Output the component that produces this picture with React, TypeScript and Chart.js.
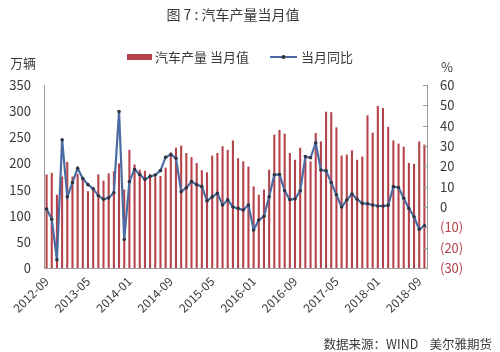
import React, { useEffect, useRef } from 'react';
import { Chart, registerables } from 'chart.js';

Chart.register(...registerables);

// Monthly categories 2012-09 .. 2018-10
const startYear = 2012;
const startMonth = 9;
const monthCount = 74;
const months: string[] = [];
for (let i = 0; i < monthCount; i++) {
  const t = startMonth - 1 + i;
  const y = startYear + Math.floor(t / 12);
  const m = (t % 12) + 1;
  months.push(`${y}-${m < 10 ? '0' + m : m}`);
}

// 汽车产量 当月值 (万辆)
const production = [
  179, 182, 140, 175, 203, 175, 180, 170, 147, 150, 179, 167, 181, 185, 200, 150,
  226, 198, 188, 186, 180, 174, 176, 192, 221, 230, 234, 220, 212, 201, 187, 183,
  215, 220, 233, 226, 244, 210, 204, 194, 156, 140, 150, 188, 255, 264, 257, 220,
  207, 230, 216, 204, 258, 242, 299, 298, 269, 215, 217, 225, 207, 213, 292, 259,
  310, 306, 270, 244, 238, 232, 201, 199, 242, 236,
];

// 当月同比 (%)
const yoy = [
  -1, -6, -26, 33, 5, 12, 19, 14, 11, 9, 5.5, 3.8, 4.5, 7, 47, -16,
  12.5, 18.5, 16, 13.6, 15, 15.7, 17.9, 24.5, 25.8, 24, 7.5, 9.5, 12.5, 11, 10, 3,
  5, 6.7, 1, 3.5, 0, -0.7, -1.5, 1, -11.3, -6.4, -4.6, 5, 15.8, 16, 8, 3.6,
  4, 8, 24.8, 24.2, 31.5, 18.2, 17.8, 12, 6, 0, 3.4, 6.4, 3.8, 1.8, 1.6, 1,
  0.5, 0.5, 0.8, 10, 9.6, 4.3, -0.7, -4.8, -11, -9.3,
];

const leftMin = 0;
const leftMax = 350;
const leftStep = 50;
const rightMin = -30;
const rightMax = 60;
const rightStep = 10;
const labelEvery = 8;

const TITLE = '图 7 : 汽车产量当月值';
const LEFT_UNIT = '万辆';
const RIGHT_UNIT = '%';
const BAR_NAME = '汽车产量 当月值';
const LINE_NAME = '当月同比';
const SOURCE = '数据来源：WIND    美尔雅期货';

const BAR_COLOR = '#B5424A';
const LINE_COLOR = '#4A6CA3';
const MARKER_COLOR = '#2F3540';
const NEG_COLOR = '#B5424A';
const TEXT_COLOR = '#3a3a3a';
const AXIS_COLOR = '#9a9a9a';
const FONT = '"Noto Sans CJK SC", "Noto Sans", sans-serif';

const textPlugin = {
  id: 'extraTexts',
  afterDraw(chart: any) {
    const ctx = chart.ctx as CanvasRenderingContext2D;
    ctx.save();
    ctx.fillStyle = TEXT_COLOR;
    ctx.textBaseline = 'middle';
    // title
    ctx.font = `14px ${FONT}`;
    ctx.textAlign = 'center';
    ctx.fillText(TITLE, 233, 15);
    // units
    ctx.font = `13px ${FONT}`;
    ctx.textAlign = 'left';
    ctx.fillText(LEFT_UNIT, 10, 63);
    ctx.fillText(RIGHT_UNIT, 441, 67);
    // legend
    ctx.fillStyle = BAR_COLOR;
    ctx.fillRect(127, 54, 25, 6);
    ctx.fillStyle = TEXT_COLOR;
    ctx.fillText(BAR_NAME, 155, 57);
    ctx.strokeStyle = LINE_COLOR;
    ctx.lineWidth = 2;
    ctx.beginPath();
    ctx.moveTo(270, 57);
    ctx.lineTo(297, 57);
    ctx.stroke();
    ctx.fillStyle = MARKER_COLOR;
    ctx.beginPath();
    ctx.arc(283.5, 57, 2, 0, Math.PI * 2);
    ctx.fill();
    ctx.fillStyle = TEXT_COLOR;
    ctx.fillText(LINE_NAME, 301, 57);
    // source
    ctx.font = `12.5px ${FONT}`;
    ctx.textAlign = 'right';
    ctx.fillText(SOURCE, 492, 344);
    // inward tick marks on right axis
    const y1 = chart.scales.y1;
    const area = chart.chartArea;
    ctx.strokeStyle = AXIS_COLOR;
    ctx.lineWidth = 1;
    for (let v = rightMin; v <= rightMax; v += rightStep) {
      const py = Math.round(y1.getPixelForValue(v)) + 0.5;
      ctx.beginPath();
      ctx.moveTo(area.right - 4, py);
      ctx.lineTo(area.right, py);
      ctx.stroke();
    }
    ctx.restore();
  },
};

export default function App() {
  const ref = useRef<HTMLCanvasElement | null>(null);
  useEffect(() => {
    if (!ref.current) return;
    const chart = new Chart(ref.current, {
      type: 'bar',
      data: {
        labels: months,
        datasets: [
          {
            type: 'line',
            label: LINE_NAME,
            data: yoy,
            yAxisID: 'y1',
            borderColor: LINE_COLOR,
            borderWidth: 2.2,
            pointRadius: 1.8,
            pointBackgroundColor: MARKER_COLOR,
            pointBorderColor: MARKER_COLOR,
            pointBorderWidth: 0,
            tension: 0,
            order: 0,
          } as any,
          {
            type: 'bar',
            label: BAR_NAME,
            data: production,
            yAxisID: 'y',
            backgroundColor: BAR_COLOR,
            barPercentage: 0.4,
            categoryPercentage: 1,
            order: 1,
          },
        ],
      },
      options: {
        responsive: false,
        animation: false,
        events: [],
        layout: { padding: { top: 85, left: 0, right: 0, bottom: 0 } },
        plugins: {
          legend: { display: false },
          title: { display: false },
          tooltip: { enabled: false },
        },
        scales: {
          x: {
            grid: { display: false, drawTicks: false },
            border: { display: true, color: AXIS_COLOR },
            ticks: {
              autoSkip: false,
              maxRotation: 45,
              minRotation: 45,
              padding: 6,
              color: TEXT_COLOR,
              font: { family: FONT, size: 12 },
              callback: (_v: any, i: number) => (i % labelEvery === 0 ? months[i] : null),
            },
            afterFit: (s: any) => {
              s.height = 84;
            },
          },
          y: {
            position: 'left',
            min: leftMin,
            max: leftMax,
            grid: { display: false, drawTicks: false },
            border: { display: true, color: AXIS_COLOR },
            ticks: {
              stepSize: leftStep,
              padding: 13,
              color: TEXT_COLOR,
              font: { family: FONT, size: 13 },
            },
            afterFit: (s: any) => {
              s.width = 44;
            },
          },
          y1: {
            position: 'right',
            min: rightMin,
            max: rightMax,
            grid: { display: false, drawTicks: false },
            border: { display: true, color: AXIS_COLOR },
            ticks: {
              stepSize: rightStep,
              padding: 13,
              font: { family: FONT, size: 13 },
              color: (c: any) => (c.tick && c.tick.value < 0 ? NEG_COLOR : TEXT_COLOR),
              callback: (v: any) => (Number(v) < 0 ? `(${-Number(v)})` : `${v}`),
            },
            afterFit: (s: any) => {
              s.width = 73;
            },
          },
        },
      },
      plugins: [textPlugin],
    });
    return () => chart.destroy();
  }, []);
  return (
    <div style={{ position: 'absolute', left: 0, top: 0, width: 500, height: 352, background: '#fff' }}>
      <canvas ref={ref} width={500} height={352} style={{ display: 'block' }} />
    </div>
  );
}
